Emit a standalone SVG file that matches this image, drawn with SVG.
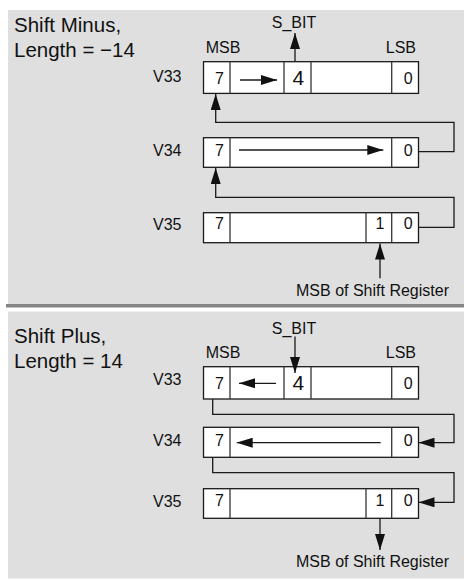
<svg xmlns="http://www.w3.org/2000/svg" width="464" height="580" viewBox="0 0 464 580">
<style>
text{font-family:"Liberation Sans",Arial,sans-serif;fill:#111}
.t{font-size:20.5px}
.s{font-size:16px}
.b{font-size:21px}
.m{text-anchor:middle}
.e{text-anchor:end}
.box{fill:#fff;stroke:#1a1a1a;stroke-width:1.3}
.div{stroke:#333;stroke-width:1.3}
.c{fill:none;stroke:#1a1a1a;stroke-width:1.3}
</style>
<defs>
<marker id="ah" markerUnits="userSpaceOnUse" markerWidth="16" markerHeight="10" refX="16" refY="5" orient="auto" viewBox="0 0 16 10">
<path d="M0,0 L16,5 L0,10 z" fill="#111"/>
</marker>
</defs>
<rect x="8" y="10" width="456" height="294" fill="#dfdfdf"/>
<rect x="6" y="304" width="458" height="3.5" fill="#858585"/>
<rect x="8" y="311.5" width="456" height="267" fill="#dfdfdf"/>

<g id="title-minus">
<text class="t" x="14" y="32.3">Shift Minus,</text>
<text class="t" x="14" y="57.3">Length = −14</text>
</g>
<g id="labels-top">
<text class="s m" x="294" y="28">S_BIT</text>
<text class="s" x="205.7" y="53.3">MSB</text>
<text class="s e" x="416" y="53.3">LSB</text>
<text class="s m" x="372.5" y="296">MSB of Shift Register</text>
</g>
<g id="top-v33">
<text class="s" x="153" y="81.7">V33</text>
<rect class="box" x="203.5" y="61.7" width="215" height="31.7"/>
<line class="div" x1="230" y1="61.7" x2="230" y2="93.4"/>
<line class="div" x1="284" y1="61.7" x2="284" y2="93.4"/>
<line class="div" x1="311" y1="61.7" x2="311" y2="93.4"/>
<line class="div" x1="391.7" y1="61.7" x2="391.7" y2="93.4"/>
<text class="s m" x="219.5" y="84.3">7</text>
<text class="b m" x="298.3" y="85">4</text>
<text class="s m" x="408.3" y="84.3">0</text>
</g>
<g id="top-v34">
<text class="s" x="153" y="155.7">V34</text>
<rect class="box" x="203.5" y="137.7" width="215" height="29.6"/>
<line class="div" x1="230" y1="137.7" x2="230" y2="167.3"/>
<line class="div" x1="391.7" y1="137.7" x2="391.7" y2="167.3"/>
<text class="s m" x="219.5" y="155.7">7</text>
<text class="s m" x="408.3" y="155.7">0</text>
</g>
<g id="top-v35">
<text class="s" x="153" y="230">V35</text>
<rect class="box" x="203.5" y="212.7" width="215" height="30"/>
<line class="div" x1="230" y1="212.7" x2="230" y2="242.7"/>
<line class="div" x1="366" y1="212.7" x2="366" y2="242.7"/>
<line class="div" x1="391.7" y1="212.7" x2="391.7" y2="242.7"/>
<text class="s m" x="219.5" y="229.3">7</text>
<text class="s m" x="380" y="229.3">1</text>
<text class="s m" x="408.3" y="229.3">0</text>
</g>

<g id="title-plus">
<text class="t" x="14" y="342.7">Shift Plus,</text>
<text class="t" x="14" y="367.7">Length = 14</text>
</g>
<g id="labels-bottom">
<text class="s m" x="294" y="334">S_BIT</text>
<text class="s" x="205.7" y="357.7">MSB</text>
<text class="s e" x="416" y="357.7">LSB</text>
<text class="s m" x="372.5" y="566.7">MSB of Shift Register</text>
</g>
<g id="bottom-v33">
<text class="s" x="153" y="384.5">V33</text>
<rect class="box" x="203.5" y="366.7" width="215" height="32.3"/>
<line class="div" x1="230" y1="366.7" x2="230" y2="399"/>
<line class="div" x1="284" y1="366.7" x2="284" y2="399"/>
<line class="div" x1="311" y1="366.7" x2="311" y2="399"/>
<line class="div" x1="391.7" y1="366.7" x2="391.7" y2="399"/>
<text class="s m" x="219.5" y="389.3">7</text>
<text class="b m" x="298.3" y="390">4</text>
<text class="s m" x="408.3" y="389.3">0</text>
</g>
<g id="bottom-v34">
<text class="s" x="153" y="445.7">V34</text>
<rect class="box" x="203.5" y="427.3" width="215" height="30"/>
<line class="div" x1="230" y1="427.3" x2="230" y2="457.3"/>
<line class="div" x1="391.7" y1="427.3" x2="391.7" y2="457.3"/>
<text class="s m" x="219.5" y="446.3">7</text>
<text class="s m" x="408.3" y="446.3">0</text>
</g>
<g id="bottom-v35">
<text class="s" x="153" y="507">V35</text>
<rect class="box" x="203.5" y="488.7" width="215" height="29.6"/>
<line class="div" x1="230" y1="488.7" x2="230" y2="518.3"/>
<line class="div" x1="366" y1="488.7" x2="366" y2="518.3"/>
<line class="div" x1="391.7" y1="488.7" x2="391.7" y2="518.3"/>
<text class="s m" x="219.5" y="505.5">7</text>
<text class="s m" x="380" y="505.5">1</text>
<text class="s m" x="408.3" y="505.5">0</text>
</g>

<g id="connectors">
<line class="c" x1="240" y1="80" x2="277" y2="80" marker-end="url(#ah)"/>
<line class="c" x1="295" y1="61.7" x2="295" y2="33" marker-end="url(#ah)"/>
<polyline class="c" points="418.5,151.7 454,151.7 454,122.3 215.7,122.3 215.7,94" marker-end="url(#ah)"/>
<line class="c" x1="239" y1="150" x2="383.3" y2="150" marker-end="url(#ah)"/>
<polyline class="c" points="418.5,227.3 454,227.3 454,197.3 215.7,197.3 215.7,168" marker-end="url(#ah)"/>
<line class="c" x1="380" y1="278.3" x2="380" y2="243.5" marker-end="url(#ah)"/>

<line class="c" x1="295" y1="336.5" x2="295" y2="373" marker-end="url(#ah)"/>
<line class="c" x1="276" y1="383.3" x2="239" y2="383.3" marker-end="url(#ah)"/>
<polyline class="c" points="212.7,399 212.7,414.3 454,414.3 454,442.7 418.5,442.7" marker-end="url(#ah)"/>
<line class="c" x1="380.7" y1="442.7" x2="236.7" y2="442.7" marker-end="url(#ah)"/>
<polyline class="c" points="212.7,457.3 212.7,472.7 454,472.7 454,502.3 418.5,502.3" marker-end="url(#ah)"/>
<line class="c" x1="380" y1="518.3" x2="380" y2="550" marker-end="url(#ah)"/>
</g>
</svg>
